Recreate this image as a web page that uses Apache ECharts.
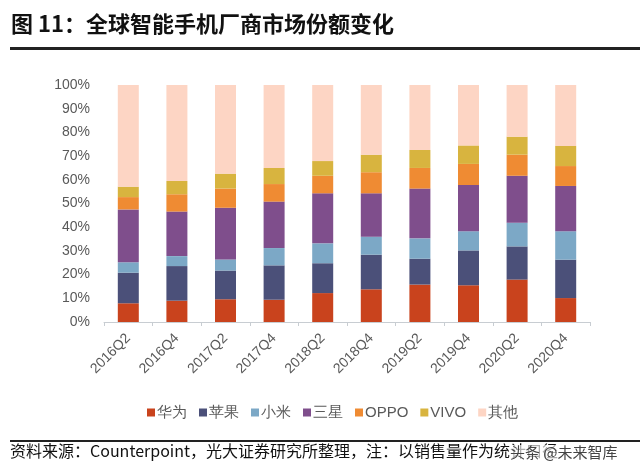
<!DOCTYPE html>
<html><head><meta charset="utf-8">
<script src="https://cdn.jsdelivr.net/npm/echarts@6/dist/echarts.min.js"></script>
<style>html,body{margin:0;padding:0;background:#fff}#c{width:640px;height:475px}</style>
</head><body><div id="c"></div>
<script>
const categories = ['2016Q2','2016Q4','2017Q2','2017Q4','2018Q2','2018Q4','2019Q2','2019Q4','2020Q2','2020Q4'];
const huawei  = [7.9, 9.0, 9.6, 9.4, 12.2, 13.8, 15.8, 15.5, 17.9, 10.1];
const apple   = [12.9, 14.6, 12.1, 14.5, 12.6, 14.6, 10.9, 14.7, 14.0, 16.2];
const xiaomi  = [4.4, 4.2, 4.7, 7.3, 8.4, 7.6, 8.6, 8.1, 10.0, 12.0];
const samsung = [22.3, 18.8, 21.8, 19.6, 21.1, 18.3, 21.0, 19.5, 19.8, 19.1];
const oppo    = [5.2, 7.3, 8.1, 7.4, 7.4, 8.9, 8.7, 8.9, 8.9, 8.4];
const vivo    = [4.4, 5.6, 6.3, 6.8, 6.2, 7.4, 7.6, 7.8, 7.6, 8.5];
const others  = [42.9, 40.5, 37.4, 35.0, 32.1, 29.4, 27.4, 25.5, 21.8, 25.7];
const seriesNames = ['华为','苹果','小米','三星','OPPO','VIVO','其他'];
const seriesData = [huawei, apple, xiaomi, samsung, oppo, vivo, others];
const colors = ['#C9431D','#4B5079','#7CA8C6','#7F4E8C','#EF8B33','#D8B43F','#FDD5C4'];
const yTicks = [0,10,20,30,40,50,60,70,80,90,100];

const chart = echarts.init(document.getElementById('c'));
const font = '"Liberation Sans", Arial, sans-serif';
const cjk = '"Noto Sans CJK SC", sans-serif';
chart.setOption({
  animation: false,
  color: colors,
  textStyle: {fontFamily: font},
  grid: {left: 104, right: 50, top: 85, bottom: 153, containLabel: false},
  xAxis: {
    type: 'category', data: categories, boundaryGap: true,
    axisLine: {lineStyle: {color: '#C8CDD2', width: 1}},
    axisTick: {show: true, alignWithLabel: false, length: 4, lineStyle: {color: '#C8CDD2'}},
    axisLabel: {rotate: 45, fontSize: 14, color: '#595959', margin: 14, fontFamily: font, interval: 0, padding: [0, 0, 0, 0]}
  },
  yAxis: {
    type: 'value', min: 0, max: 100, interval: 10,
    axisLine: {show: false}, axisTick: {show: false}, splitLine: {show: false},
    axisLabel: {formatter: v => yTicks.includes(v) ? v + '%' : '', fontSize: 14, color: '#595959', margin: 14, fontFamily: font}
  },
  legend: {
    data: seriesNames, left: 142, top: 400, itemWidth: 8, itemHeight: 8, itemGap: 12,
    icon: 'rect', textStyle: {fontSize: 15, color: '#595959', fontFamily: font, padding: [0,0,0,-3]}
  },
  series: seriesNames.map((n, i) => ({
    name: n, type: 'bar', stack: 'total', data: seriesData[i], barWidth: 21,
    itemStyle: {color: colors[i]}
  })),
  graphic: [
    {type: 'text', left: 11, top: 13, style: {text: '图 11：全球智能手机厂商市场份额变化', fontSize: 22, fontWeight: 'bold', fill: '#111', fontFamily: cjk}},
    {type: 'rect', shape: {x: 10, y: 47, width: 630, height: 3}, style: {fill: '#222'}},
    {type: 'rect', shape: {x: 10, y: 440, width: 630, height: 2}, style: {fill: '#222'}},
    {type: 'text', left: 10, top: 443, style: {text: '资料来源：Counterpoint，光大证券研究所整理，注：以销售量作为统计口径', fontSize: 16, fill: '#111', fontFamily: cjk}},
    {type: 'text', left: 510, top: 445, style: {text: '头条 @未来智库', fontSize: 15, fill: '#444', backgroundColor: 'rgba(255,255,255,0.65)', fontFamily: cjk}}
  ]
});
</script></body></html>
